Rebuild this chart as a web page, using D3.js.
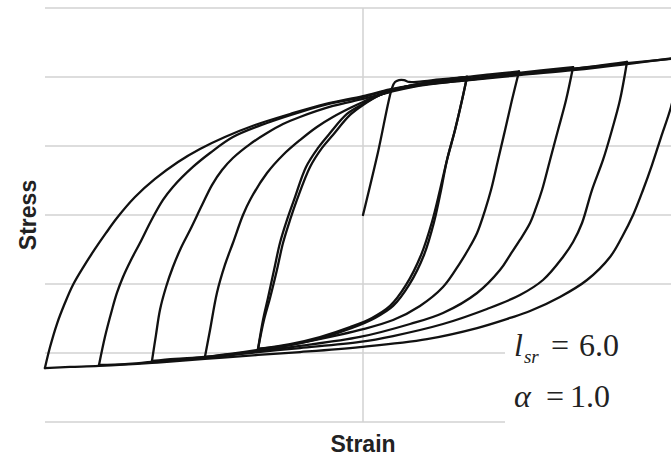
<!DOCTYPE html>
<html>
<head>
<meta charset="utf-8">
<script src="https://cdn.jsdelivr.net/npm/d3@7"></script>
<style>
  html, body { margin: 0; padding: 0; background: #fff; }
  svg { display: block; }
</style>
</head>
<body>
<svg id="chart" width="671" height="457"></svg>
<script>
// Cyclic stress-strain history of a reinforcing bar with buckling.
// Strain in %, stress normalised by the yield stress (sigma / fy).

// monotonic loading from the origin through yield
const loading0 = [[0,0],[0.094,0.457],[0.181,0.920],[0.200,0.964],[0.225,0.978],[0.256,0.978],[0.288,0.964],[0.356,0.967],[0.481,0.982],[0.65,1.0]];

// first amplitude, cycled twice
const unloadA = [[0.65,1.0],[0.619,0.833],[0.575,0.616],[0.525,0.399],[0.481,0.181],[0.431,-0.051],[0.363,-0.290],[0.269,-0.507],[0.169,-0.659],[0.056,-0.746],[-0.081,-0.812],[-0.269,-0.884],[-0.456,-0.935],[-0.656,-0.971]];
const reloadA = [[-0.656,-0.971],[-0.619,-0.761],[-0.581,-0.601],[-0.538,-0.399],[-0.5,-0.203],[-0.456,-0.036],[-0.413,0.109],[-0.331,0.348],[-0.256,0.486],[-0.188,0.580],[-0.081,0.725],[0,0.797],[0.106,0.870],[0.231,0.920],[0.419,0.964],[0.65,1.0]];
const unloadB = [[0.65,1.0],[0.619,0.833],[0.575,0.616],[0.525,0.399],[0.488,0.181],[0.444,-0.051],[0.381,-0.290],[0.288,-0.507],[0.188,-0.659],[0.075,-0.746],[-0.069,-0.819],[-0.256,-0.891],[-0.456,-0.942],[-0.656,-0.971]];
const reloadB = [[-0.656,-0.971],[-0.625,-0.761],[-0.594,-0.601],[-0.556,-0.399],[-0.519,-0.203],[-0.475,-0.036],[-0.431,0.109],[-0.356,0.348],[-0.281,0.486],[-0.206,0.594],[-0.1,0.732],[0,0.804],[0.106,0.870],[0.231,0.920],[0.419,0.964],[0.65,1.0],[0.794,1.018],[0.975,1.040]];

// growing amplitudes
const unload2 = [[0.975,1.040],[0.931,0.833],[0.888,0.616],[0.844,0.399],[0.8,0.181],[0.763,0.036],[0.713,-0.130],[0.656,-0.254],[0.606,-0.348],[0.5,-0.522],[0.356,-0.659],[0.188,-0.761],[-0.019,-0.833],[-0.206,-0.884],[-0.394,-0.928],[-0.656,-0.978],[-0.831,-1.007],[-0.988,-1.029]];
const reload2 = [[-0.988,-1.029],[-0.956,-0.833],[-0.913,-0.565],[-0.863,-0.362],[-0.813,-0.203],[-0.75,0],[-0.706,0.109],[-0.6,0.304],[-0.5,0.435],[-0.394,0.543],[-0.288,0.638],[-0.188,0.710],[-0.081,0.775],[0,0.819],[0.106,0.870],[0.231,0.915],[0.419,0.952],[0.65,0.986],[0.975,1.030],[1.313,1.072]];
const unload3 = [[1.313,1.072],[1.269,0.833],[1.219,0.616],[1.169,0.399],[1.119,0.181],[1.081,0.051],[1.044,-0.058],[0.981,-0.181],[0.919,-0.290],[0.856,-0.399],[0.713,-0.565],[0.5,-0.710],[0.294,-0.790],[-0.019,-0.884],[-0.394,-0.949],[-0.656,-0.986],[-0.988,-1.029],[-1.175,-1.043],[-1.319,-1.058]];
const reload3 = [[-1.319,-1.058],[-1.294,-0.870],[-1.269,-0.688],[-1.231,-0.522],[-1.188,-0.377],[-1.138,-0.239],[-1.081,-0.109],[-1.006,0.072],[-0.944,0.217],[-0.881,0.326],[-0.813,0.413],[-0.706,0.514],[-0.6,0.594],[-0.5,0.659],[-0.394,0.710],[-0.188,0.790],[0,0.841],[0.169,0.891],[0.356,0.937],[0.65,0.978],[0.975,1.020],[1.313,1.058],[1.65,1.109]];
const unload4 = [[1.65,1.109],[1.606,0.833],[1.556,0.616],[1.5,0.399],[1.431,0.181],[1.369,-0.058],[1.313,-0.196],[1.25,-0.304],[1.125,-0.471],[0.981,-0.580],[0.775,-0.681],[0.5,-0.790],[0.188,-0.877],[-0.019,-0.920],[-0.394,-0.964],[-0.656,-0.993],[-0.988,-1.036],[-1.319,-1.065],[-1.488,-1.080],[-1.65,-1.087]];
const reload4 = [[-1.65,-1.087],[-1.613,-0.884],[-1.569,-0.688],[-1.538,-0.565],[-1.5,-0.449],[-1.45,-0.326],[-1.394,-0.203],[-1.325,-0.043],[-1.25,0.109],[-1.188,0.203],[-1.063,0.348],[-0.956,0.449],[-0.813,0.565],[-0.6,0.667],[-0.394,0.746],[-0.188,0.812],[0,0.855],[0.169,0.906],[0.356,0.944],[0.65,0.975],[0.975,1.014],[1.313,1.050],[1.65,1.094],[2.0,1.145]];
const unload5 = [[2.0,1.145],[1.925,0.783],[1.863,0.565],[1.806,0.362],[1.75,0.181],[1.688,0],[1.619,-0.159],[1.544,-0.304],[1.4,-0.471],[1.231,-0.594],[1.044,-0.696],[0.919,-0.746],[0.713,-0.819],[0.4,-0.899],[-0.019,-0.957],[-0.394,-0.993],[-0.656,-1.014],[-0.988,-1.043],[-1.319,-1.072],[-1.65,-1.094],[-1.831,-1.101],[-1.988,-1.109]];
const reload5 = [[-1.988,-1.109],[-1.956,-0.957],[-1.913,-0.790],[-1.863,-0.638],[-1.813,-0.507],[-1.744,-0.370],[-1.675,-0.246],[-1.606,-0.130],[-1.538,-0.022],[-1.425,0.130],[-1.3,0.261],[-1.156,0.384],[-1.019,0.478],[-0.863,0.565],[-0.675,0.652],[-0.456,0.732],[-0.238,0.804],[0,0.862],[0.169,0.910],[0.356,0.946],[0.65,0.980],[0.975,1.022],[1.313,1.060],[1.65,1.100],[2.0,1.140],[2.231,1.163]];

const stressGrid = [-1.5, -1.0, -0.5, 0, 0.5, 1.0, 1.5];
const strainGrid = [0];
const axisLabels = { x: "Strain", y: "Stress" };
const modelParams = [
  { symbol: "l", sub: "sr", value: "6.0" },
  { symbol: "\u03b1", sub: "", value: "1.0" }
];

const branches = [loading0, unloadA, reloadA, unloadB, reloadB,
                  unload2, reload2, unload3, reload3,
                  unload4, reload4, unload5, reload5];

const W = 671, H = 457;
const plotLeft = 45, plotRight = 671;
const x = d3.scaleLinear().domain([-2, 2]).range([43, 683]);
const y = d3.scaleLinear().domain([-1.5, 1.5]).range([422, 8]);

const svg = d3.select("#chart");

// grid
const grid = svg.append("g").attr("stroke", "#d2d2d2").attr("stroke-width", 1.5);
grid.selectAll("line.h").data(stressGrid).join("line")
  .attr("class", "h")
  .attr("x1", plotLeft).attr("x2", plotRight)
  .attr("y1", d => y(d)).attr("y2", d => y(d));
grid.selectAll("line.v").data(strainGrid).join("line")
  .attr("class", "v")
  .attr("x1", d => x(d)).attr("x2", d => x(d))
  .attr("y1", y(1.5)).attr("y2", y(-1.5));

// parameter box (blank background behind the model parameters)
svg.append("rect")
  .attr("x", 505).attr("y", 328).attr("width", W - 505).attr("height", H - 328)
  .attr("fill", "#fff");

// hysteresis branches
const line = d3.line()
  .x(d => x(d[0])).y(d => y(d[1]))
  .curve(d3.curveCatmullRom.alpha(0.5));

svg.append("g")
  .attr("fill", "none").attr("stroke", "#111")
  .attr("stroke-width", 2.3).attr("stroke-linejoin", "round").attr("stroke-linecap", "round")
  .selectAll("path").data(branches).join("path")
  .attr("d", line);

// axis titles
const sans = "Liberation Sans, Arial, sans-serif";
svg.append("text")
  .attr("x", x(0)).attr("y", 452)
  .attr("text-anchor", "middle")
  .attr("font-family", sans)
  .attr("font-weight", "bold").attr("font-size", 23).attr("fill", "#222")
  .text(axisLabels.x);

svg.append("text")
  .attr("transform", `translate(36,${y(0)}) rotate(-90)`)
  .attr("text-anchor", "middle")
  .attr("font-family", sans)
  .attr("font-weight", "bold").attr("font-size", 23).attr("fill", "#222")
  .text(axisLabels.y);

// model parameters
const serif = "Liberation Serif, Times New Roman, serif";
const rows = [
  { baseline: 356, symX: 514, eqX: 551, valX: 579 },
  { baseline: 407, symX: 514, eqX: 546, valX: 570 }
];
modelParams.forEach((p, i) => {
  const r = rows[i];
  const g = svg.append("g").attr("font-family", serif).attr("fill", "#222");
  const t = g.append("text").attr("x", r.symX).attr("y", r.baseline).attr("font-size", 32);
  t.append("tspan").attr("font-style", "italic").text(p.symbol);
  if (p.sub) {
    t.append("tspan").attr("font-style", "italic").attr("font-size", 19)
      .attr("dy", 7).attr("dx", 1).text(p.sub);
  }
  g.append("text").attr("x", r.eqX).attr("y", r.baseline).attr("font-size", 32).text("=");
  g.append("text").attr("x", r.valX).attr("y", r.baseline).attr("font-size", 32).text(p.value);
});
</script>
</body>
</html>
